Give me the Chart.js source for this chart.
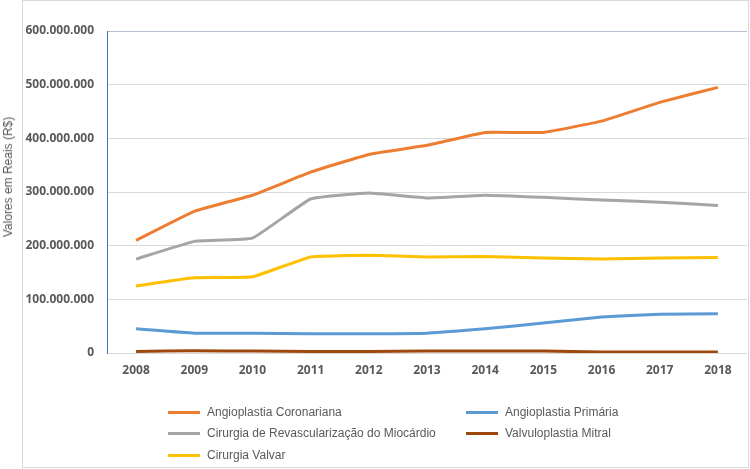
<!DOCTYPE html>
<html>
<head>
<meta charset="utf-8">
<script src="https://cdn.jsdelivr.net/npm/chart.js@4"></script>
<style>
  body { margin: 0; background: #fff; }
  #wrap { position: relative; width: 750px; height: 469px; }
  #frame { position: absolute; left: 22px; top: 0; width: 725px; height: 466px; border: 1px solid #d9d9d9; }
  #chart { position: absolute; left: 0; top: 0; }
  #ytitle { position: absolute; left: 8px; top: 177px; transform: translate(-50%, -50%) rotate(-90deg);
            font: 12px "Liberation Sans", Arial, sans-serif; color: #595959; white-space: nowrap; }
  .leg { position: absolute; font: 12px "Liberation Sans", Arial, sans-serif; color: #595959; white-space: nowrap; }
  .leg i { position: absolute; left: -39px; top: 6px; width: 32px; height: 3px; }
</style>
</head>
<body>
<div id="wrap">
  <div id="frame"></div>
  <canvas id="chart" width="750" height="469"></canvas>
  <div id="ytitle">Valores em Reais (R$)</div>
  <div id="legend"></div>
</div>
<script>
// anos
const years = ['2008', '2009', '2010', '2011', '2012', '2013', '2014', '2015', '2016', '2017', '2018'];

// valores em reais
const angioCoronariana = [210e6, 264e6, 294e6, 337e6, 370e6, 387e6, 411e6, 411e6, 432e6, 467e6, 495e6];
const angioPrimaria = [45e6, 37e6, 37e6, 36e6, 36e6, 37e6, 45e6, 56e6, 67e6, 72e6, 73e6];
const revascularizacao = [175e6, 208e6, 214e6, 287e6, 298e6, 289e6, 294e6, 290e6, 285e6, 281e6, 275e6];
const valvuloplastia = [3e6, 4e6, 3.5e6, 3e6, 3e6, 3.5e6, 3.5e6, 3.5e6, 2e6, 2e6, 2e6];
const cirurgiaValvar = [125e6, 140e6, 142e6, 179e6, 182e6, 179e6, 180e6, 177e6, 175e6, 177e6, 178e6];

const yTicks = [0, 100e6, 200e6, 300e6, 400e6, 500e6, 600e6];

const series = [
  { label: 'Angioplastia Coronariana', data: angioCoronariana, color: '#ed7d31', x: 207, y: 405 },
  { label: 'Angioplastia Primária', data: angioPrimaria, color: '#5b9bd5', x: 505, y: 405 },
  { label: 'Cirurgia de Revascularização do Miocárdio', data: revascularizacao, color: '#a5a5a5', x: 207, y: 426 },
  { label: 'Valvuloplastia Mitral', data: valvuloplastia, color: '#9e480e', x: 505, y: 426 },
  { label: 'Cirurgia Valvar', data: cirurgiaValvar, color: '#ffc000', x: 207, y: 448 }
];

function fmt(v) {
  return String(Math.round(v)).replace(/\B(?=(\d{3})+(?!\d))/g, '.');
}

const legend = document.getElementById('legend');
series.forEach(s => {
  const d = document.createElement('div');
  d.className = 'leg';
  d.style.left = s.x + 'px';
  d.style.top = s.y + 'px';
  d.innerHTML = '<i style="background:' + s.color + '"></i>' + s.label;
  legend.appendChild(d);
});

const tickFont = { family: 'Open Sans', size: 12, weight: 'bold' };

new Chart(document.getElementById('chart'), {
  type: 'line',
  data: {
    labels: years,
    datasets: series.map(s => ({
      label: s.label,
      data: s.data,
      borderColor: s.color,
      backgroundColor: s.color,
      borderWidth: 3,
      pointRadius: 0,
      tension: 0.1
    }))
  },
  options: {
    responsive: false,
    animation: false,
    layout: { padding: { top: 31, right: 3, left: 0, bottom: 0 } },
    plugins: { legend: { display: false }, tooltip: { enabled: false } },
    scales: {
      x: {
        offset: true,
        grid: { display: false, drawTicks: false },
        border: { display: false },
        ticks: { color: '#595959', font: tickFont, padding: 10, maxRotation: 0 },
        afterFit: a => { a.height = 116; }
      },
      y: {
        min: 0,
        max: 600e6,
        afterBuildTicks: a => { a.ticks = yTicks.map(v => ({ value: v })); },
        grid: {
          color: ctx => ctx.tick && ctx.tick.value === 600e6 ? '#b4c0cc' : '#d9d9d9',
          lineWidth: 1,
          drawTicks: false
        },
        border: { display: true, color: '#4472c4', width: 1 },
        ticks: { color: '#595959', font: tickFont, padding: 13, callback: v => fmt(v) },
        afterFit: a => { a.width = 107; }
      }
    }
  }
});
</script>
</body>
</html>
